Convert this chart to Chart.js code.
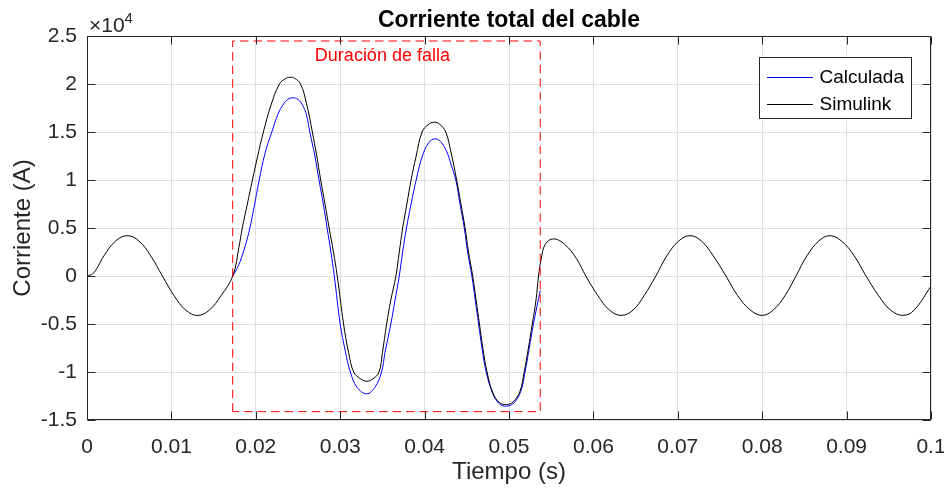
<!DOCTYPE html>
<html lang="es">
<head>
    <meta charset="UTF-8">
    <title>Corriente total del cable</title>
    <script src="https://cdn.jsdelivr.net/npm/chart.js"></script>
    <style>
        body { margin: 0; background: #ffffff; }
        canvas { display: block; }
    </style>
</head>
<body>
    <canvas id="grafico" width="944" height="489"></canvas>

<script>
    // tiempo (s) y corriente (A)
    const simTime = [0, 0.0007, 0.0013, 0.0020, 0.00338, 0.00477, 0.00616, 0.00755, 0.00893, 0.01032, 0.01171, 0.0131, 0.01449, 0.01588, 0.01727,
        0.0180, 0.0184, 0.0190, 0.0196, 0.0202, 0.0209, 0.0218, 0.0228, 0.0235, 0.02405, 0.0246, 0.0253, 0.0260, 0.0267, 0.0272, 0.02769, 0.0282, 0.02869, 0.0292, 0.02965,
        0.0304, 0.0310, 0.0316, 0.0324, 0.03314, 0.0339, 0.0346, 0.0350, 0.0355, 0.0360, 0.0366, 0.0370, 0.0374, 0.0379, 0.0384, 0.0390, 0.0397, 0.0404, 0.04111,
        0.0418, 0.0425, 0.0431, 0.0438, 0.0443, 0.0448, 0.0452, 0.0457, 0.0461, 0.0465, 0.0469, 0.0474, 0.0481, 0.0489, 0.04973,
        0.0505, 0.0513, 0.0518, 0.0523, 0.05276, 0.0532, 0.0535, 0.0538, 0.0543, 0.05525,
        0.0566, 0.0580, 0.0591, 0.0605, 0.0619, 0.0633, 0.0647, 0.0660, 0.0674, 0.0687, 0.0701, 0.07145, 0.0728, 0.0742, 0.0757, 0.0771, 0.0786, 0.0800,
        0.0813, 0.0827, 0.0840, 0.0853, 0.0867, 0.0880, 0.0894, 0.0909, 0.0923, 0.0938, 0.0952, 0.0967, 0.0980, 0.1000];
    const simCurrent = [0, 250, 1000, 2100, 3640, 4200, 3640, 2100, 0, -2050, -3560, -4110, -3560, -2050, 0,
        3000, 5000, 7500, 10000, 12400, 15000, 17800, 20000, 20550, 20700, 20600, 20000, 18000, 15000, 12600, 10000, 7500, 5000, 2500, 0,
        -5000, -8000, -10000, -10700, -10960, -10700, -10000, -8000, -5000, -2500, 0, 2500, 5000, 7500, 10000, 12500, 15000, 15750, 16020,
        15800, 15000, 13000, 10000, 7500, 5000, 2500, 0, -2500, -5000, -7500, -10000, -12200, -13200, -13390,
        -13100, -12000, -10000, -7500, -5000, -2500, 0, 1700, 3300, 3870,
        3300, 1800, 0, -2000, -3550, -4100, -3550, -2050, 0, 2100, 3640, 4200, 3640, 2100, 0, -2050, -3550, -4100,
        -3550, -2050, 0, 2100, 3640, 4200, 3640, 2100, 0, -2050, -3550, -4100, -3550, -1060];

    const calcTime = [0.01726, 0.0176, 0.0180, 0.0183, 0.0188, 0.0193, 0.0198, 0.0204, 0.0211, 0.0219, 0.0226, 0.0232, 0.0238, 0.02437, 0.0250, 0.0256, 0.0260,
        0.0264, 0.0270, 0.02749, 0.0280, 0.02845, 0.0289, 0.0293, 0.0300, 0.0306, 0.0312, 0.0320, 0.03314, 0.0341, 0.0349, 0.0353, 0.0360, 0.0365,
        0.0370, 0.0374, 0.03785, 0.0384, 0.0390, 0.0397, 0.0405, 0.04123, 0.0419, 0.0426, 0.0431, 0.0437, 0.0442, 0.0447, 0.0451, 0.0456,
        0.0460, 0.0464, 0.0468, 0.0473, 0.0481, 0.0489, 0.04973, 0.0506, 0.0514, 0.0519, 0.0524, 0.0529, 0.0533, 0.0537];
    const calcCurrent = [0, 500, 1200, 1900, 3300, 5000, 7200, 10000, 12800, 15000, 16800, 17800, 18400, 18560, 18400, 17700, 16800,
        15000, 12500, 10000, 7500, 5000, 2500, 0, -5000, -7800, -10000, -11600, -12270, -11600, -10000, -8000, -5000, -2500,
        0, 2500, 5000, 7500, 10000, 12400, 13900, 14290, 14000, 13000, 11700, 10000, 7500, 5000, 2500, 0,
        -2500, -5000, -7500, -10000, -12300, -13350, -13560, -13200, -12000, -10000, -7500, -5000, -3200, -1500];

    // recuadro de la duracion de falla
    const faultTime = [0.01726, 0.01726, 0.0537, 0.0537, 0.01726];
    const faultCurrent = [-14130, 24480, 24480, -14130, -14130];
    const faultLabel = 'Duración de falla';
    const faultLabelPos = [0.0350, 22400];

    const xTickValues = [0, 0.01, 0.02, 0.03, 0.04, 0.05, 0.06, 0.07, 0.08, 0.09, 0.1];
    const xTickLabels = ['0', '0.01', '0.02', '0.03', '0.04', '0.05', '0.06', '0.07', '0.08', '0.09', '0.1'];
    const yTickValues = [-15000, -10000, -5000, 0, 5000, 10000, 15000, 20000, 25000];
    const yTickLabels = ['-1.5', '-1', '-0.5', '0', '0.5', '1', '1.5', '2', '2.5'];

    const fuente = "'Liberation Sans', Arial, Helvetica, sans-serif";
    const gris = '#262626';
    const colorCalc = '#0000ff';
    const colorSim = '#000000';

    const extras = {
        id: 'extras',
        afterDatasetsDraw(chart) {
            const ctx = chart.ctx;
            const a = chart.chartArea;
            const x = chart.scales.x;
            const y = chart.scales.y;
            ctx.save();

            ctx.fillStyle = '#ff0000';
            ctx.font = '18px ' + fuente;
            ctx.textAlign = 'center';
            ctx.textBaseline = 'alphabetic';
            ctx.fillText(faultLabel, x.getPixelForValue(faultLabelPos[0]), y.getPixelForValue(faultLabelPos[1]));

            // marco y marcas hacia adentro
            ctx.strokeStyle = gris;
            ctx.lineWidth = 1;
            const l = a.left + 0.5, r = a.right - 0.5, t = a.top + 0.5, b = a.bottom - 0.5;
            ctx.strokeRect(l, t, r - l, b - t);
            ctx.beginPath();
            xTickValues.forEach(v => {
                const px = Math.round(x.getPixelForValue(v)) + 0.5;
                ctx.moveTo(px, b); ctx.lineTo(px, b - 8);
                ctx.moveTo(px, t); ctx.lineTo(px, t + 8);
            });
            yTickValues.forEach(v => {
                const py = Math.round(y.getPixelForValue(v)) + 0.5;
                ctx.moveTo(l, py); ctx.lineTo(l + 8, py);
                ctx.moveTo(r, py); ctx.lineTo(r - 8, py);
            });
            ctx.stroke();
            ctx.restore();
        },
        afterDraw(chart) {
            const ctx = chart.ctx;
            const a = chart.chartArea;
            const cx = (a.left + a.right) / 2;
            ctx.save();
            ctx.fillStyle = '#000000';
            ctx.textAlign = 'center';
            ctx.textBaseline = 'alphabetic';
            ctx.font = 'bold 23px ' + fuente;
            ctx.fillText('Corriente total del cable', cx, 27);

            ctx.fillStyle = gris;
            ctx.font = '24px ' + fuente;
            ctx.fillText('Tiempo (s)', cx, 479);
            ctx.save();
            ctx.translate(30, (a.top + a.bottom) / 2);
            ctx.rotate(-Math.PI / 2);
            ctx.fillText('Corriente (A)', 0, 0);
            ctx.restore();

            // factor de escala del eje y
            ctx.textAlign = 'left';
            ctx.font = '21px ' + fuente;
            ctx.fillText('\u00d710', 89, 32);
            const w = ctx.measureText('\u00d710').width;
            ctx.font = '15px ' + fuente;
            ctx.fillText('4', 89 + w, 23);

            // leyenda
            const items = [['Calculada', colorCalc], ['Simulink', colorSim]];
            ctx.fillStyle = '#ffffff';
            ctx.fillRect(759.5, 57.5, 152, 61);
            ctx.strokeStyle = gris;
            ctx.lineWidth = 1;
            ctx.strokeRect(759.5, 57.5, 152, 61);
            ctx.font = '19px ' + fuente;
            ctx.textBaseline = 'middle';
            items.forEach((it, i) => {
                const yy = 77 + i * 27;
                ctx.strokeStyle = it[1];
                ctx.beginPath();
                ctx.moveTo(767, yy + 0.5);
                ctx.lineTo(813, yy + 0.5);
                ctx.stroke();
                ctx.fillStyle = '#000000';
                ctx.fillText(it[0], 819.5, yy + 1);
            });
            ctx.restore();
        }
    };

    const simData = simTime.map((t, i) => ({ x: t, y: simCurrent[i] }));
    const calcData = calcTime.map((t, i) => ({ x: t, y: calcCurrent[i] }));
    const faultData = faultTime.map((t, i) => ({ x: t, y: faultCurrent[i] }));

    const ctx = document.getElementById('grafico').getContext('2d');

    new Chart(ctx, {
        type: 'line',
        data: {
            datasets: [{
                label: 'Simulink',
                data: simData,
                borderColor: colorSim,
                borderWidth: 1,
                pointRadius: 0,
                tension: 0.4,
                order: 1
            }, {
                label: 'Calculada',
                data: calcData,
                borderColor: colorCalc,
                borderWidth: 1,
                pointRadius: 0,
                tension: 0.4,
                order: 2
            }, {
                label: 'Duración de falla',
                data: faultData,
                borderColor: '#ff0000',
                borderWidth: 1,
                borderDash: [8.5, 5],
                pointRadius: 0,
                tension: 0,
                order: 0
            }]
        },
        options: {
            responsive: false,
            animation: false,
            layout: { padding: { top: 36, right: 13, left: 0, bottom: 0 } },
            plugins: {
                legend: { display: false },
                tooltip: { enabled: false },
                title: { display: false }
            },
            scales: {
                x: {
                    type: 'linear',
                    min: 0,
                    max: 0.1,
                    afterBuildTicks: s => { s.ticks = xTickValues.map(v => ({ value: v })); },
                    afterFit: s => { s.height = 69; s.paddingLeft = 0; s.paddingRight = 0; },
                    grid: { color: '#dfdfdf', drawTicks: false },
                    border: { display: false },
                    ticks: {
                        color: gris,
                        font: { family: fuente, size: 21 },
                        padding: 15,
                        maxRotation: 0,
                        autoSkip: false,
                        callback: (v, i) => xTickLabels[i]
                    }
                },
                y: {
                    min: -15000,
                    max: 25000,
                    afterBuildTicks: s => { s.ticks = yTickValues.map(v => ({ value: v })); },
                    afterFit: s => { s.width = 87; s.paddingTop = 0; s.paddingBottom = 0; },
                    grid: { color: '#dfdfdf', drawTicks: false },
                    border: { display: false },
                    ticks: {
                        color: gris,
                        font: { family: fuente, size: 21 },
                        padding: 10,
                        autoSkip: false,
                        callback: (v, i) => yTickLabels[i]
                    }
                }
            }
        },
        plugins: [extras]
    });
</script>
</body>
</html>
